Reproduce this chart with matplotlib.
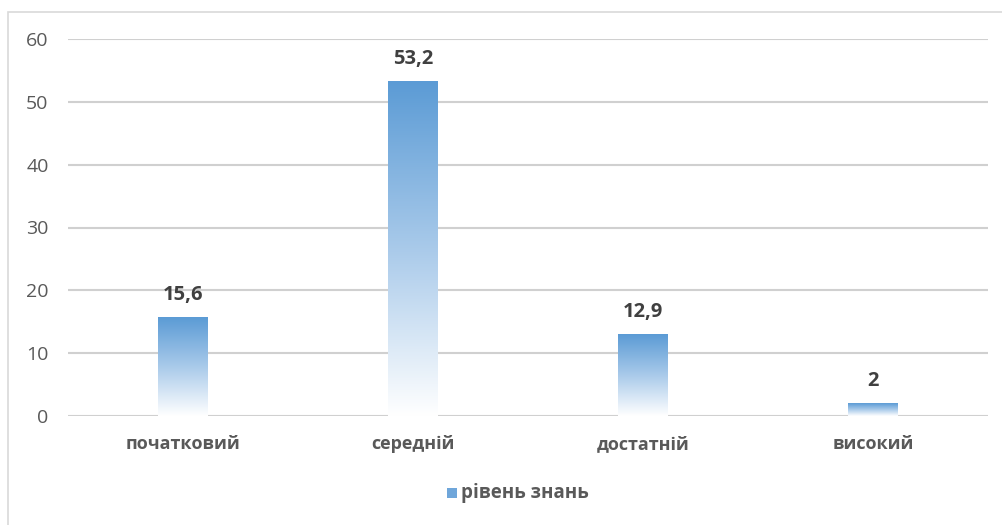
import numpy as np
import matplotlib.pyplot as plt
from matplotlib.colors import LinearSegmentedColormap
from matplotlib.patches import Rectangle

categories = ["початковий", "середній", "достатній", "високий"]
values = [15.6, 53.2, 12.9, 2]
value_labels = ["15,6", "53,2", "12,9", "2"]
series_name = "рівень знань"
yticks = [0, 10, 20, 30, 40, 50, 60]

plt.rcParams['font.family'] = ['Open Sans', 'DejaVu Sans']

fig = plt.figure(figsize=(10.02, 5.25), dpi=100)
ax = fig.add_axes([68 / 1002, 1 - 416 / 525, 920 / 1002, (416 - 39) / 525])

# Рамка диаграммы
fig.patches.append(Rectangle((8 / 1002, -0.1), 1.2, 1 - 12 / 525 + 0.1,
                             transform=fig.transFigure, fill=False,
                             edgecolor='#D9D9D9', linewidth=1.2))

x = np.arange(len(categories))
bars = ax.bar(x, values, width=0.217, color='none', zorder=3)

# Градиент: сверху синий, снизу белый
cmap = LinearSegmentedColormap.from_list("grad", ["#FFFFFF", "#A9CAEA", "#5B9BD5"])
grad = np.linspace(0, 1, 256).reshape(-1, 1)
for b in bars:
    x0, w, h = b.get_x(), b.get_width(), b.get_height()
    ax.imshow(grad, extent=(x0, x0 + w, 0, h), origin='lower', cmap=cmap,
              aspect='auto', zorder=3, interpolation='bicubic')

for b, lab in zip(bars, value_labels):
    ax.annotate(lab, (b.get_x() + b.get_width() / 2, b.get_height()),
                xytext=(0, 9), textcoords='offset points', ha='center', va='bottom',
                fontsize=14.5, fontweight='bold', color='#404040')

ax.set_xlim(-0.5, len(categories) - 0.5)
ax.set_ylim(0, 60)
ax.set_yticks(yticks)
ax.set_xticks(x)
ax.set_xticklabels(categories, fontsize=13, fontweight='bold', color='#595959')
ax.tick_params(axis='y', labelsize=14, labelcolor='#595959', length=0, pad=14)
ax.tick_params(axis='x', length=0, pad=14)
ax.grid(axis='y', color='#D0D0D0', linewidth=1.5, zorder=0)
for s in ax.spines.values():
    s.set_visible(False)

# Легенда
fig.patches.append(Rectangle((447 / 1002, 1 - 498 / 525), 10 / 1002, 10 / 525,
                             transform=fig.transFigure, facecolor='#6FA6DA',
                             edgecolor='none'))
fig.text(461 / 1002, 1 - 493 / 525, series_name, fontsize=13.5, fontweight='bold',
         color='#595959', va='center', ha='left')

plt.savefig("out.png", dpi=100)
